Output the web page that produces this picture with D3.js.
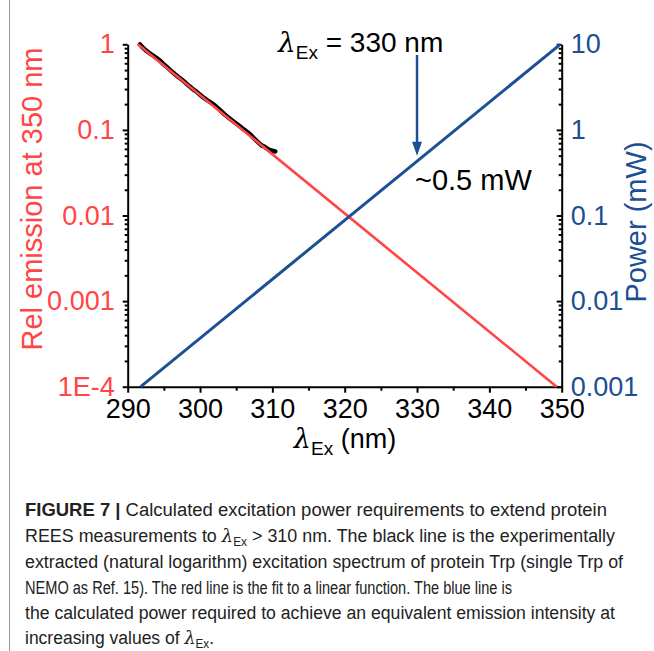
<!DOCTYPE html>
<html>
<head>
<meta charset="utf-8">
<script src="https://cdn.jsdelivr.net/npm/d3@7"></script>
<style>
  body { margin: 0; background: #fff; }
  svg { display: block; font-family: "Liberation Sans", Arial, sans-serif; }
  .axis path, .axis line { stroke: #000; stroke-width: 2; }
  .axis text { font-size: 27px; }
</style>
</head>
<body>
<svg id="chart" width="654" height="651"></svg>
<script>
// x ticks (nm)
const xTicks = [290, 300, 310, 320, 330, 340, 350];
const xMinor = [295, 305, 315, 325, 335, 345];
// left axis: relative emission at 350 nm
const leftTicks = [1, 0.1, 0.01, 0.001, 1e-4];
const leftLabels = ['1', '0.1', '0.01', '0.001', '1E-4'];
// right axis: power (mW)
const rightTicks = [10, 1, 0.1, 0.01, 0.001];
const rightLabels = ['10', '1', '0.1', '0.01', '0.001'];

// experimental excitation spectrum (black)
const expX = [291.7, 292, 292.5, 293, 293.5, 294, 294.5, 295, 295.5, 296, 296.5, 297, 297.5, 298, 298.5,
  299, 299.5, 300, 300.5, 301, 301.5, 302, 302.5, 303, 303.5, 304, 304.5, 305, 305.5, 306, 306.5,
  307, 307.5, 308, 308.5, 309, 309.5, 310, 310.4];
const expEmission = [1.00, 0.93, 0.85, 0.79, 0.74, 0.69, 0.64, 0.58, 0.535, 0.49, 0.45, 0.415, 0.385, 0.355, 0.325,
  0.30, 0.28, 0.258, 0.238, 0.222, 0.208, 0.195, 0.178, 0.163, 0.149, 0.138, 0.128, 0.119, 0.110, 0.102, 0.095,
  0.088, 0.079, 0.072, 0.066, 0.063, 0.059, 0.057, 0.056];

// linear fit (red)
const fitX = [291.4, 349.3];
const fitEmission = [1, 1e-4];

// calculated power (blue)
const powerX = [291.8, 349.8];
const powerMW = [0.001, 10];

const red = '#ff4545';
const blue = '#1c4f93';

const svg = d3.select('#chart');

// frame line at left of figure
svg.append('line')
  .attr('x1', 9.5).attr('x2', 9.5).attr('y1', 0).attr('y2', 651)
  .attr('stroke', '#999').attr('stroke-width', 1);

const x = d3.scaleLinear().domain([290, 350]).range([127.7, 561.7]);
const yL = d3.scaleLog().domain([1e-4, 1]).range([386.7, 44.3]);
const yR = d3.scaleLog().domain([1e-3, 10]).range([386.7, 44.3]);

// minor ticks for log axes
const minorOf = (lo, hi) => {
  const out = [];
  for (let p = lo; p < hi; p++) {
    for (let m = 2; m <= 9; m++) out.push(m * Math.pow(10, p));
  }
  return out;
};

// left axis
svg.append('g').attr('class', 'axis').attr('transform', 'translate(127.7,0)')
  .call(d3.axisLeft(yL).tickValues(minorOf(-4, 0)).tickSize(3).tickFormat(''))
  .call(g => g.select('.domain').remove());
svg.append('g').attr('class', 'axis').attr('transform', 'translate(127.7,0)')
  .call(d3.axisLeft(yL).tickValues(leftTicks).tickSize(5).tickSizeOuter(0).tickPadding(8)
    .tickFormat((d, i) => leftLabels[i]))
  .call(g => g.selectAll('text').attr('fill', red));

// right axis (ticks point inward)
svg.append('g').attr('class', 'axis').attr('transform', 'translate(561.7,0)')
  .call(d3.axisRight(yR).tickValues(minorOf(-3, 1)).tickSize(-3).tickFormat(''))
  .call(g => g.select('.domain').remove());
svg.append('g').attr('class', 'axis').attr('transform', 'translate(561.7,0)')
  .call(d3.axisRight(yR).tickValues(rightTicks).tickSize(-5).tickSizeOuter(0).tickPadding(9)
    .tickFormat((d, i) => rightLabels[i]))
  .call(g => g.selectAll('text').attr('fill', blue));

// bottom axis
svg.append('g').attr('class', 'axis').attr('transform', 'translate(0,386.7)')
  .call(d3.axisBottom(x).tickValues(xMinor).tickSize(4).tickFormat(''))
  .call(g => g.select('.domain').remove());
svg.append('g').attr('class', 'axis').attr('transform', 'translate(0,386.7)')
  .call(d3.axisBottom(x).tickValues(xTicks).tickSize(6).tickSizeOuter(0).tickPadding(6)
    .tickFormat(d3.format('d')))
  .call(g => g.selectAll('text').attr('fill', '#000'));

// lines
const lineL = d3.line().x(d => x(d[0])).y(d => yL(d[1]));
const lineR = d3.line().x(d => x(d[0])).y(d => yR(d[1]));

svg.append('path')
  .attr('d', lineL(expX.map((v, i) => [v, expEmission[i]])))
  .attr('fill', 'none').attr('stroke', '#000').attr('stroke-width', 4.5)
  .attr('stroke-linejoin', 'round').attr('stroke-linecap', 'round');

svg.append('path')
  .attr('d', lineL(fitX.map((v, i) => [v, fitEmission[i]])))
  .attr('fill', 'none').attr('stroke', red).attr('stroke-width', 2.6);

svg.append('path')
  .attr('d', lineR(powerX.map((v, i) => [v, powerMW[i]])))
  .attr('fill', 'none').attr('stroke', blue).attr('stroke-width', 3);

// axis titles
svg.append('text')
  .attr('transform', 'translate(42,199) rotate(-90)')
  .attr('text-anchor', 'middle').attr('font-size', 29).attr('fill', red)
  .text('Rel emission at 350 nm');

svg.append('text')
  .attr('transform', 'translate(646,222) rotate(-90)')
  .attr('text-anchor', 'middle').attr('font-size', 29).attr('fill', blue)
  .text('Power (mW)');

const xTitle = svg.append('text')
  .attr('x', 345).attr('y', 448)
  .attr('text-anchor', 'middle').attr('font-size', 27).attr('fill', '#000');
xTitle.append('tspan').attr('font-style', 'italic').attr('font-family', '"DejaVu Serif", serif').text('λ');
xTitle.append('tspan').attr('font-size', 19).attr('dy', 7).text('Ex');
xTitle.append('tspan').attr('dy', -7).text(' (nm)');

// annotation
const ann = svg.append('text').attr('x', 278).attr('y', 52).attr('font-size', 28).attr('fill', '#000');
ann.append('tspan').attr('font-style', 'italic').attr('font-family', '"DejaVu Serif", serif').text('λ');
ann.append('tspan').attr('font-size', 19).attr('dy', 7).text('Ex');
ann.append('tspan').attr('dy', -7).text(' = 330 nm');

const ax = x(330);
const tipY = yR(0.5);
svg.append('line')
  .attr('x1', ax).attr('x2', ax).attr('y1', yR(7.5)).attr('y2', tipY - 12)
  .attr('stroke', blue).attr('stroke-width', 2.5);
svg.append('path')
  .attr('d', `M${ax - 5},${tipY - 14}L${ax + 5},${tipY - 14}L${ax},${tipY}Z`)
  .attr('fill', blue);

svg.append('text').attr('x', 415).attr('y', 190).attr('font-size', 29).attr('fill', '#000')
  .text('~0.5 mW');

// caption
const capX = 25;
const capFont = 18;
const capLine = (y, len) => svg.append('text').attr('x', capX).attr('y', y).attr('font-size', capFont)
  .attr('textLength', len).attr('lengthAdjust', 'spacingAndGlyphs').attr('fill', '#222');

const c1 = capLine(516, 582);
c1.append('tspan').attr('font-weight', 'bold').text('FIGURE 7 | ');
c1.append('tspan').text('Calculated excitation power requirements to extend protein');

const c2 = capLine(542, 590);
c2.append('tspan').text('REES measurements to ');
c2.append('tspan').attr('font-style', 'italic').attr('font-family', '"DejaVu Serif", serif').text('λ');
c2.append('tspan').attr('font-size', 12).attr('dy', 4).text('Ex');
c2.append('tspan').attr('dy', -4).text(' > 310 nm. The black line is the experimentally');

capLine(568, 598).text('extracted (natural logarithm) excitation spectrum of protein Trp (single Trp of');

capLine(594, 487).text('NEMO as Ref. 15). The red line is the fit to a linear function. The blue line is');

capLine(619, 590).text('the calculated power required to achieve an equivalent emission intensity at');

const c6 = capLine(644, 189);
c6.append('tspan').text('increasing values of ');
c6.append('tspan').attr('font-style', 'italic').attr('font-family', '"DejaVu Serif", serif').text('λ');
c6.append('tspan').attr('font-size', 12).attr('dy', 4).text('Ex');
c6.append('tspan').attr('dy', -4).text('.');
</script>
</body>
</html>
